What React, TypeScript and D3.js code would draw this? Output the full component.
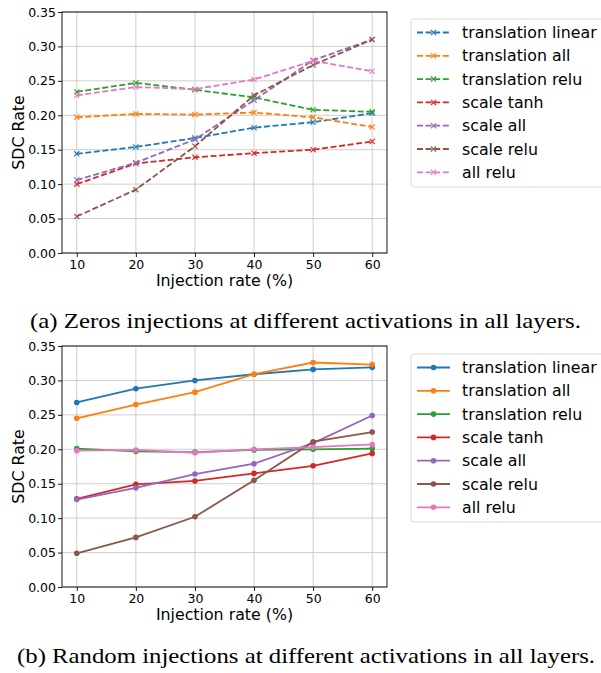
import { useEffect, useRef } from "react";
import * as d3 from "d3";

const injectionRates = [10, 20, 30, 40, 50, 60];
const seriesNames = [
  "translation linear",
  "translation all",
  "translation relu",
  "scale tanh",
  "scale all",
  "scale relu",
  "all relu",
];
const seriesColors = ["#1f77b4", "#ff7f0e", "#2ca02c", "#d62728", "#9467bd", "#8c564b", "#e377c2"];
const yTicks = [0, 0.05, 0.1, 0.15, 0.2, 0.25, 0.3, 0.35];

// (a) zeros injections
const zerosSdc = [
  [0.144, 0.154, 0.167, 0.182, 0.19, 0.203],
  [0.197, 0.202, 0.201, 0.204, 0.197, 0.183],
  [0.234, 0.247, 0.237, 0.226, 0.208, 0.205],
  [0.1, 0.13, 0.139, 0.145, 0.15, 0.162],
  [0.106, 0.131, 0.165, 0.222, 0.28, 0.31],
  [0.053, 0.092, 0.155, 0.229, 0.273, 0.31],
  [0.229, 0.241, 0.238, 0.252, 0.279, 0.264],
];

// (b) random injections
const randomSdc = [
  [0.268, 0.288, 0.3, 0.309, 0.316, 0.319],
  [0.245, 0.265, 0.283, 0.309, 0.326, 0.323],
  [0.201, 0.197, 0.196, 0.199, 0.2, 0.201],
  [0.128, 0.149, 0.154, 0.165, 0.176, 0.194],
  [0.127, 0.144, 0.164, 0.179, 0.209, 0.249],
  [0.049, 0.072, 0.102, 0.155, 0.211, 0.225],
  [0.198, 0.199, 0.195, 0.2, 0.203, 0.207],
];

const captions = [
  "(a) Zeros injections at different activations in all layers.",
  "(b) Random injections at different activations in all layers.",
];

const W = 601;
const H = 673;
const sans = "'DejaVu Sans', sans-serif";

type Panel = {
  values: number[][];
  top: number;
  dashed: boolean;
  marker: "x" | "o";
  legendTop: number;
  caption: string;
  captionX: number;
  captionY: number;
  captionWidth: number;
};

function drawMarker(
  g: d3.Selection<SVGGElement, unknown, null, undefined>,
  kind: "x" | "o",
  cx: number,
  cy: number,
  color: string
) {
  if (kind === "x") {
    const s = 2.6;
    g.append("path")
      .attr("d", `M${cx - s},${cy - s}L${cx + s},${cy + s}M${cx - s},${cy + s}L${cx + s},${cy - s}`)
      .attr("stroke", color)
      .attr("stroke-width", 1.1)
      .attr("fill", "none");
  } else {
    g.append("circle").attr("cx", cx).attr("cy", cy).attr("r", 2.8).attr("fill", color);
  }
}

export default function App() {
  const svgRef = useRef<SVGSVGElement>(null);

  useEffect(() => {
    if (!svgRef.current) return;
    const svg = d3.select(svgRef.current);
    svg.selectAll("*").remove();

    const plotLeft = 62;
    const plotRight = 387;
    const plotHeight = 241;

    const x = d3.scaleLinear().domain([7.5, 62.5]).range([plotLeft, plotRight]);

    const panels: Panel[] = [
      {
        values: zerosSdc, top: 12, dashed: true, marker: "x", legendTop: 19,
        caption: captions[0], captionX: 30, captionY: 328, captionWidth: 551,
      },
      {
        values: randomSdc, top: 346, dashed: false, marker: "o", legendTop: 354,
        caption: captions[1], captionX: 17, captionY: 663, captionWidth: 578,
      },
    ];

    panels.forEach((p) => {
      const y = d3.scaleLinear().domain([0, 0.35]).range([p.top + plotHeight, p.top]);
      const g = svg.append("g");
      const bottom = p.top + plotHeight;

      // grid
      injectionRates.forEach((v) => {
        g.append("line")
          .attr("x1", x(v)).attr("x2", x(v))
          .attr("y1", p.top).attr("y2", bottom)
          .attr("stroke", "#c8c8c8").attr("stroke-width", 0.9);
      });
      yTicks.forEach((v) => {
        g.append("line")
          .attr("x1", plotLeft).attr("x2", plotRight)
          .attr("y1", y(v)).attr("y2", y(v))
          .attr("stroke", "#c8c8c8").attr("stroke-width", 0.9);
      });

      // axes
      const xAxis = g.append("g")
        .attr("transform", `translate(0,${bottom})`)
        .call(d3.axisBottom(x).tickValues(injectionRates).tickSize(4).tickPadding(3).tickFormat(d3.format("d")));
      const yAxis = g.append("g")
        .attr("transform", `translate(${plotLeft},0)`)
        .call(d3.axisLeft(y).tickValues(yTicks).tickSize(4).tickPadding(2).tickFormat(d3.format(".2f")));
      [xAxis, yAxis].forEach((a) => {
        a.select(".domain").remove();
        a.selectAll("line").attr("stroke", "#000").attr("stroke-width", 0.9);
        a.selectAll("text")
          .attr("fill", "#000")
          .attr("font-family", sans)
          .attr("font-size", "12.5px");
      });

      g.append("rect")
        .attr("x", plotLeft).attr("y", p.top)
        .attr("width", plotRight - plotLeft).attr("height", plotHeight)
        .attr("fill", "none").attr("stroke", "#000").attr("stroke-width", 0.9);

      // axis labels
      g.append("text")
        .attr("x", (plotLeft + plotRight) / 2)
        .attr("y", bottom + 32.5)
        .attr("text-anchor", "middle")
        .attr("font-family", sans)
        .attr("font-size", "15.8px")
        .text("Injection rate (%)");
      g.append("text")
        .attr("transform", `translate(24,${p.top + plotHeight / 2}) rotate(-90)`)
        .attr("text-anchor", "middle")
        .attr("font-family", sans)
        .attr("font-size", "15.8px")
        .text("SDC Rate");

      // series
      const line = d3.line<number>()
        .x((_, i) => x(injectionRates[i]))
        .y((d) => y(d));
      p.values.forEach((vals, si) => {
        const color = seriesColors[si];
        g.append("path")
          .datum(vals)
          .attr("d", line)
          .attr("fill", "none")
          .attr("stroke", color)
          .attr("stroke-width", 1.8)
          .attr("stroke-dasharray", p.dashed ? "6,2.6" : null);
        vals.forEach((v, i) => drawMarker(g, p.marker, x(injectionRates[i]), y(v), color));
      });

      // legend
      const lg = g.append("g");
      lg.append("rect")
        .attr("x", 411).attr("y", p.legendTop)
        .attr("width", 200).attr("height", 168)
        .attr("rx", 3)
        .attr("fill", "#fff").attr("stroke", "#d6d6d6").attr("stroke-width", 0.9);
      seriesNames.forEach((name, i) => {
        const cy = p.legendTop + 13.5 + i * 23.3;
        const color = seriesColors[i];
        lg.append("line")
          .attr("x1", 417).attr("x2", 450)
          .attr("y1", cy).attr("y2", cy)
          .attr("stroke", color).attr("stroke-width", 1.8)
          .attr("stroke-dasharray", p.dashed ? "6,2.6" : null);
        drawMarker(lg, p.marker, 433.5, cy, color);
        lg.append("text")
          .attr("x", 462).attr("y", cy)
          .attr("dy", "0.36em")
          .attr("font-family", sans)
          .attr("font-size", "15.8px")
          .text(name);
      });

      // caption
      svg.append("text")
        .attr("x", p.captionX)
        .attr("y", p.captionY)
        .attr("textLength", p.captionWidth)
        .attr("lengthAdjust", "spacingAndGlyphs")
        .attr("font-family", "'Liberation Serif', 'Times New Roman', serif")
        .attr("font-size", "21px")
        .text(p.caption);
    });
  }, []);

  return (
    <svg
      ref={svgRef}
      width={W}
      height={H}
      viewBox={`0 0 ${W} ${H}`}
      style={{ position: "absolute", left: 0, top: 0, background: "#fff" }}
    />
  );
}
